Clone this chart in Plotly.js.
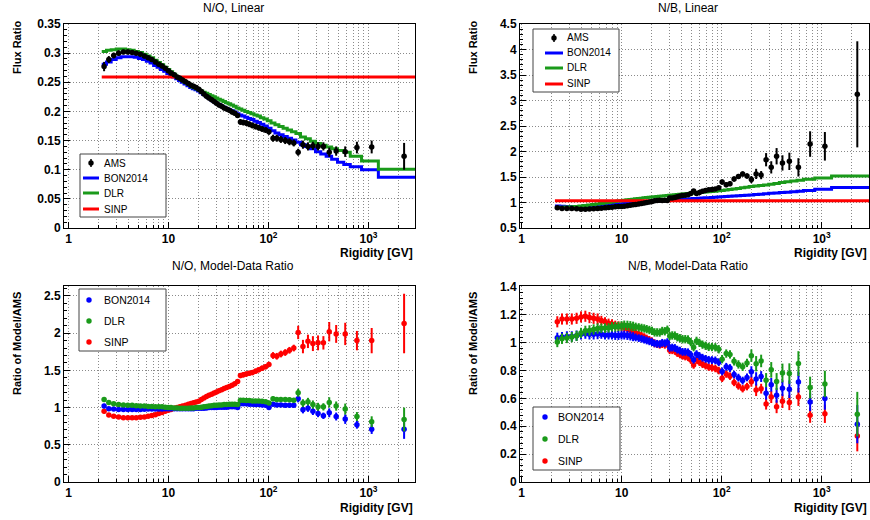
<!DOCTYPE html>
<html><head><meta charset="utf-8">
<script src="https://cdn.plot.ly/plotly-3.0.1.min.js"></script>
<style>html,body{margin:0;padding:0;background:#fff}#chart{width:870px;height:520px}</style>
</head><body><div id="chart"></div>
<script>
// ---------- data ----------
const rigidity = [2.27,2.53,2.83,3.17,3.54,3.92,4.33,4.76,5.24,5.74,
 6.26,6.81,7.39,7.99,8.62,9.28,9.96,10.6,11.4,12.2,
 13.0,13.8,14.8,15.8,16.8,17.8,18.9,20.1,21.3,22.6,
 24.0,25.4,27.0,28.6,30.2,32.0,34.0,36.0,38.2,40.6,
 43.2,46.0,49.1,52.4,56.0,59.9,64.3,69.0,74.2,79.9,
 86.3,93.5,101,111,121,133,147,162,179,198,
 221,248,278,313,354,405,475,585,766,1076,2270];

const modelEdges = [2.15,2.40,2.67,3.00,3.35,3.73,4.12,4.54,5.00,5.49,
 6.00,6.54,7.10,7.69,8.30,8.95,9.62,10.3,11.0,11.8,
 12.6,13.4,14.3,15.3,16.3,17.3,18.4,19.5,20.7,22.0,
 23.3,24.7,26.2,27.8,29.4,31.1,33.0,35.0,37.1,39.4,
 41.9,44.6,47.5,50.7,54.1,57.9,62.0,66.6,71.5,77.0,
 83.0,89.8,97.3,106,116,127,140,154,170,188,
 209,234,262,295,333,377,428,490,566,657,852,1255,3200];

// N/O flux ratio (AMS)
const amsNO = [0.277,0.289,0.296,0.300,0.302,0.302,0.301,0.300,0.298,0.295,
 0.292,0.289,0.285,0.281,0.278,0.274,0.270,0.266,0.263,0.259,
 0.257,0.254,0.251,0.248,0.245,0.243,0.241,0.238,0.234,0.230,
 0.226,0.223,0.220,0.217,0.214,0.211,0.209,0.206,0.204,0.202,
 0.199,0.197,0.193,0.182,0.181,0.180,0.178,0.176,0.174,0.172,
 0.170,0.168,0.165,0.154,0.154,0.152,0.150,0.148,0.146,0.130,
 0.143,0.140,0.141,0.140,0.140,0.130,0.132,0.131,0.138,0.139,0.123];
const amsNOerr = [0.008,0.006,0.005,0.005,0.004,0.004,0.004,0.004,0.004,0.004,
 0.004,0.004,0.004,0.004,0.004,0.004,0.004,0.004,0.004,0.004,
 0.004,0.004,0.004,0.004,0.004,0.004,0.004,0.004,0.004,0.004,
 0.004,0.004,0.004,0.004,0.004,0.004,0.004,0.004,0.004,0.004,
 0.004,0.004,0.004,0.005,0.005,0.005,0.005,0.005,0.005,0.005,
 0.005,0.005,0.005,0.006,0.006,0.006,0.006,0.006,0.006,0.006,
 0.007,0.007,0.007,0.007,0.007,0.008,0.008,0.009,0.010,0.011,0.023];

// N/O model histograms (one value per model bin)
const bonNO = [0.281,0.285,0.289,0.292,0.294,0.294,0.294,0.293,0.291,0.289,
 0.286,0.283,0.279,0.276,0.272,0.269,0.265,0.262,0.259,0.256,
 0.253,0.250,0.247,0.244,0.241,0.239,0.237,0.235,0.232,0.229,
 0.226,0.223,0.220,0.217,0.214,0.212,0.209,0.207,0.205,0.203,
 0.201,0.199,0.196,0.194,0.192,0.190,0.188,0.186,0.183,0.181,
 0.178,0.175,0.171,0.167,0.163,0.160,0.157,0.154,0.151,0.147,
 0.143,0.140,0.136,0.131,0.127,0.123,0.118,0.113,0.109,0.105,0.100,0.087];
const dlrNO = [0.303,0.305,0.306,0.307,0.307,0.306,0.305,0.303,0.301,0.298,
 0.295,0.292,0.288,0.284,0.280,0.276,0.272,0.268,0.264,0.260,
 0.257,0.254,0.250,0.247,0.244,0.241,0.239,0.237,0.235,0.233,
 0.231,0.229,0.227,0.225,0.223,0.221,0.219,0.217,0.215,0.213,
 0.211,0.209,0.206,0.204,0.202,0.200,0.198,0.196,0.194,0.192,
 0.189,0.187,0.184,0.180,0.177,0.174,0.171,0.168,0.165,0.162,
 0.156,0.153,0.149,0.145,0.142,0.139,0.136,0.133,0.130,0.123,0.115,0.101];
const sinpNO = 0.259;

// N/O model / AMS
const ratioBonNO = [1.02,0.985,0.98,0.975,0.975,0.975,0.975,0.975,0.975,0.978,
 0.98,0.98,0.98,0.98,0.982,0.984,0.985,0.985,0.985,0.985,
 0.985,0.985,0.985,0.985,0.985,0.985,0.99,0.99,0.99,0.99,
 0.995,1.0,1.0,1.0,1.0,1.005,1.005,1.005,1.005,1.01,
 1.01,1.01,1.0,1.05,1.05,1.05,1.045,1.045,1.04,1.04,
 1.035,1.03,1.0,1.045,1.035,1.035,1.03,1.03,1.03,1.12,
 0.97,0.99,0.95,0.92,0.89,0.93,0.88,0.845,0.77,0.71,0.71];
const ratioDlrNO = [1.11,1.07,1.05,1.04,1.035,1.03,1.03,1.025,1.02,1.02,
 1.015,1.015,1.01,1.01,1.01,1.005,1.0,1.0,0.995,0.995,
 0.99,0.99,0.99,0.99,0.995,0.995,1.0,1.0,1.005,1.01,
 1.015,1.02,1.025,1.03,1.03,1.035,1.035,1.04,1.04,1.045,
 1.045,1.045,1.04,1.10,1.10,1.095,1.095,1.09,1.09,1.09,
 1.085,1.08,1.06,1.12,1.11,1.11,1.11,1.105,1.10,1.20,
 1.06,1.08,1.04,1.01,1.01,1.07,1.02,0.98,0.88,0.81,0.84];
const ratioSinpNO = [0.95,0.90,0.885,0.875,0.865,0.862,0.862,0.865,0.87,0.875,
 0.885,0.895,0.905,0.92,0.935,0.95,0.965,0.975,0.99,1.0,
 1.01,1.02,1.03,1.045,1.055,1.065,1.075,1.085,1.11,1.13,
 1.15,1.165,1.18,1.195,1.21,1.225,1.24,1.255,1.27,1.285,
 1.30,1.32,1.35,1.43,1.44,1.45,1.46,1.47,1.49,1.51,
 1.53,1.55,1.58,1.70,1.69,1.72,1.74,1.77,1.80,2.01,
 1.82,1.89,1.86,1.87,1.87,2.02,1.99,1.99,1.90,1.90,2.13];
const ratioBonNOerr = [0.03,0.02,0.015,0.015,0.015,0.015,0.015,0.015,0.015,0.015,
 0.015,0.015,0.015,0.015,0.015,0.015,0.015,0.015,0.015,0.015,
 0.015,0.015,0.015,0.015,0.015,0.015,0.015,0.015,0.017,0.017,
 0.017,0.017,0.017,0.017,0.017,0.017,0.017,0.017,0.017,0.017,
 0.017,0.017,0.017,0.024,0.024,0.024,0.024,0.024,0.024,0.024,
 0.024,0.024,0.024,0.027,0.027,0.027,0.027,0.027,0.027,0.05,
 0.048,0.047,0.05,0.049,0.043,0.06,0.053,0.064,0.053,0.064,0.13];
const ratioDlrNOerr = [0.03,0.02,0.015,0.015,0.015,0.015,0.015,0.015,0.015,0.015,
 0.015,0.015,0.015,0.015,0.015,0.015,0.015,0.015,0.015,0.015,
 0.015,0.015,0.015,0.015,0.015,0.015,0.015,0.015,0.018,0.018,
 0.018,0.018,0.018,0.018,0.018,0.018,0.018,0.018,0.018,0.018,
 0.018,0.018,0.018,0.025,0.025,0.025,0.025,0.025,0.025,0.025,
 0.025,0.025,0.025,0.03,0.03,0.03,0.03,0.03,0.03,0.054,
 0.052,0.051,0.056,0.054,0.049,0.069,0.062,0.074,0.06,0.073,0.16];
const ratioSinpNOerr = [0.03,0.02,0.015,0.015,0.015,0.015,0.015,0.015,0.015,0.015,
 0.015,0.015,0.015,0.015,0.015,0.015,0.015,0.015,0.017,0.017,
 0.017,0.017,0.017,0.017,0.017,0.017,0.017,0.017,0.022,0.022,
 0.022,0.022,0.022,0.022,0.022,0.022,0.022,0.022,0.022,0.022,
 0.022,0.022,0.022,0.035,0.035,0.035,0.035,0.035,0.035,0.035,
 0.035,0.035,0.035,0.045,0.045,0.045,0.045,0.045,0.045,0.09,
 0.09,0.09,0.10,0.10,0.09,0.13,0.12,0.15,0.13,0.17,0.40];

// N/B flux ratio (AMS)
const amsNB = [0.896,0.880,0.880,0.880,0.877,0.869,0.866,0.873,0.877,0.880,
 0.888,0.896,0.904,0.907,0.916,0.920,0.924,0.928,0.936,0.945,
 0.954,0.963,0.972,0.981,0.990,1.000,1.010,1.020,1.035,1.040,
 1.046,1.040,1.046,1.040,1.090,1.090,1.096,1.114,1.126,1.138,
 1.144,1.151,1.177,1.226,1.177,1.198,1.219,1.234,1.249,1.256,
 1.264,1.288,1.40,1.35,1.37,1.46,1.51,1.56,1.52,1.45,
 1.561,1.537,1.839,1.689,1.907,1.776,1.807,1.689,2.146,2.102,3.121];
const amsNBerr = [0.03,0.03,0.03,0.03,0.03,0.03,0.03,0.03,0.03,0.03,
 0.028,0.028,0.028,0.028,0.028,0.028,0.028,0.028,0.028,0.028,
 0.028,0.029,0.029,0.029,0.029,0.029,0.029,0.029,0.029,0.029,
 0.029,0.029,0.029,0.029,0.033,0.033,0.033,0.033,0.033,0.033,
 0.033,0.033,0.033,0.037,0.037,0.037,0.037,0.037,0.037,0.037,
 0.037,0.037,0.05,0.05,0.05,0.05,0.05,0.05,0.05,0.07,
 0.10,0.08,0.13,0.12,0.16,0.15,0.17,0.18,0.25,0.28,1.04];

// N/B model histograms
const bonNB = [0.93,0.925,0.922,0.92,0.92,0.921,0.923,0.926,0.93,0.935,
 0.94,0.945,0.951,0.957,0.963,0.969,0.975,0.98,0.985,0.99,
 0.995,1.0,1.004,1.008,1.012,1.016,1.02,1.024,1.028,1.032,
 1.036,1.04,1.044,1.047,1.05,1.053,1.056,1.059,1.062,1.065,
 1.068,1.071,1.074,1.077,1.08,1.083,1.087,1.091,1.095,1.099,
 1.103,1.107,1.111,1.116,1.121,1.126,1.131,1.136,1.141,1.147,
 1.155,1.163,1.171,1.179,1.187,1.195,1.203,1.211,1.219,1.235,1.26,1.295];
const dlrNB = [0.90,0.905,0.91,0.915,0.92,0.93,0.94,0.95,0.96,0.97,
 0.98,0.99,1.0,1.01,1.02,1.028,1.036,1.044,1.052,1.059,
 1.066,1.073,1.079,1.085,1.091,1.097,1.102,1.107,1.112,1.117,
 1.122,1.127,1.132,1.137,1.142,1.147,1.152,1.157,1.162,1.167,
 1.172,1.177,1.182,1.187,1.192,1.197,1.202,1.207,1.212,1.217,
 1.222,1.228,1.235,1.245,1.255,1.265,1.275,1.29,1.30,1.315,
 1.325,1.335,1.345,1.36,1.375,1.39,1.405,1.42,1.435,1.455,1.48,1.52];
const sinpNB = 1.035;

// N/B model / AMS
const ratioBonNB = [1.035,1.04,1.045,1.045,1.05,1.06,1.065,1.06,1.06,1.062,
 1.06,1.055,1.055,1.055,1.052,1.052,1.055,1.055,1.052,1.048,
 1.043,1.038,1.033,1.028,1.022,1.016,1.01,1.004,0.995,0.992,
 0.99,0.999,0.996,1.004,0.963,0.965,0.962,0.95,0.943,0.934,
 0.934,0.931,0.913,0.878,0.918,0.904,0.892,0.884,0.877,0.875,
 0.873,0.86,0.794,0.827,0.818,0.771,0.749,0.728,0.751,0.791,
 0.74,0.757,0.637,0.698,0.622,0.673,0.666,0.717,0.575,0.60,0.415];
const ratioDlrNB = [1.005,1.028,1.034,1.04,1.049,1.07,1.085,1.088,1.095,1.102,
 1.104,1.105,1.106,1.114,1.114,1.117,1.121,1.125,1.124,1.121,
 1.117,1.114,1.11,1.106,1.102,1.097,1.091,1.085,1.074,1.074,
 1.073,1.084,1.082,1.093,1.048,1.052,1.051,1.039,1.032,1.025,
 1.025,1.023,1.004,0.968,1.013,0.999,0.986,0.978,0.97,0.969,
 0.967,0.953,0.882,0.922,0.916,0.866,0.844,0.827,0.855,0.907,
 0.849,0.869,0.731,0.805,0.721,0.783,0.778,0.85,0.678,0.704,0.487];
const ratioSinpNB = [1.15,1.17,1.17,1.17,1.175,1.185,1.19,1.18,1.175,1.17,
 1.16,1.15,1.14,1.135,1.125,1.12,1.115,1.11,1.10,1.09,
 1.08,1.07,1.06,1.05,1.04,1.03,1.02,1.01,0.995,0.99,
 0.985,0.99,0.985,0.99,0.945,0.945,0.94,0.925,0.915,0.905,
 0.90,0.895,0.875,0.84,0.875,0.86,0.845,0.835,0.825,0.82,
 0.815,0.80,0.745,0.775,0.76,0.715,0.69,0.67,0.685,0.72,
 0.66,0.67,0.56,0.61,0.54,0.58,0.57,0.61,0.48,0.49,0.33];
const ratioBonNBerr = [0.037,0.037,0.037,0.037,0.037,0.037,0.037,0.037,0.037,0.037,
 0.032,0.032,0.032,0.032,0.032,0.032,0.032,0.032,0.032,0.032,
 0.032,0.028,0.028,0.028,0.028,0.028,0.028,0.028,0.028,0.028,
 0.028,0.028,0.028,0.028,0.028,0.028,0.028,0.028,0.028,0.028,
 0.028,0.028,0.028,0.028,0.028,0.028,0.028,0.028,0.028,0.028,
 0.028,0.028,0.028,0.028,0.028,0.028,0.028,0.028,0.028,0.04,
 0.048,0.039,0.045,0.049,0.053,0.057,0.063,0.075,0.066,0.081,0.137];
const ratioDlrNBerr = [0.037,0.037,0.037,0.037,0.037,0.037,0.037,0.037,0.037,0.037,
 0.034,0.034,0.034,0.034,0.034,0.034,0.034,0.034,0.034,0.034,
 0.034,0.03,0.03,0.03,0.03,0.03,0.03,0.03,0.03,0.03,
 0.03,0.03,0.03,0.03,0.03,0.03,0.03,0.03,0.03,0.03,
 0.03,0.03,0.03,0.03,0.03,0.03,0.03,0.03,0.03,0.03,
 0.03,0.03,0.03,0.03,0.03,0.03,0.03,0.03,0.03,0.045,
 0.055,0.045,0.051,0.056,0.061,0.067,0.074,0.089,0.078,0.095,0.16];
const ratioSinpNBerr = [0.04,0.04,0.04,0.04,0.04,0.04,0.04,0.04,0.04,0.04,
 0.033,0.033,0.033,0.033,0.033,0.033,0.033,0.033,0.033,0.033,
 0.033,0.028,0.028,0.028,0.028,0.028,0.028,0.028,0.028,0.028,
 0.028,0.028,0.028,0.028,0.027,0.027,0.027,0.027,0.027,0.027,
 0.027,0.027,0.027,0.027,0.027,0.027,0.027,0.027,0.027,0.027,
 0.027,0.027,0.027,0.027,0.027,0.027,0.027,0.027,0.027,0.036,
 0.043,0.035,0.04,0.043,0.046,0.049,0.054,0.064,0.055,0.066,0.11];

// tick labels
const xMajorVals = [1,10,100,1000];
const xMajorText = ['1','10','10<sup>2</sup>','10<sup>3</sup>'];
const xMinorVals = [2,3,4,5,6,7,8,9,20,30,40,50,60,70,80,90,200,300,400,500,600,700,800,900,2000,3000];

// legend labels
const legendTopNames = ['AMS','BON2014','DLR','SINP'];
const legendRatioNames = ['BON2014','DLR','SINP'];

// ---------- styling ----------
const FONT = 'Liberation Sans, Arial, Helvetica, sans-serif';
const BLUE = '#0000ff', GREEN = '#1a9a1a', RED = '#ff0000', BLACK = '#000000';
const GRID = '#8a8a8a', DASH = '1px,2px';

function stepTrace(vals, color, xa, ya){
  return {type:'scatter', mode:'lines', x:modelEdges, y:vals.concat([vals[vals.length-1]]),
    line:{shape:'hv', color:color, width:3}, xaxis:xa, yaxis:ya, hoverinfo:'skip'};
}
function flatTrace(val, color, xa, ya){
  return {type:'scatter', mode:'lines', x:modelEdges, y:modelEdges.map(()=>val),
    line:{color:color, width:3}, xaxis:xa, yaxis:ya, hoverinfo:'skip'};
}
function pointTrace(y, err, color, xa, ya){
  return {type:'scatter', mode:'markers', x:rigidity, y:y,
    error_y:{type:'data', array:err, visible:true, color:color, thickness:2, width:0},
    marker:{color:color, size:5.5, symbol:'circle'}, xaxis:xa, yaxis:ya, hoverinfo:'skip'};
}

const traces = [
  stepTrace(bonNO, BLUE, 'x', 'y'),
  stepTrace(dlrNO, GREEN, 'x', 'y'),
  flatTrace(sinpNO, RED, 'x', 'y'),
  pointTrace(amsNO, amsNOerr, BLACK, 'x', 'y'),

  stepTrace(bonNB, BLUE, 'x2', 'y2'),
  stepTrace(dlrNB, GREEN, 'x2', 'y2'),
  flatTrace(sinpNB, RED, 'x2', 'y2'),
  pointTrace(amsNB, amsNBerr, BLACK, 'x2', 'y2'),

  pointTrace(ratioSinpNO, ratioSinpNOerr, RED, 'x3', 'y3'),
  pointTrace(ratioBonNO, ratioBonNOerr, BLUE, 'x3', 'y3'),
  pointTrace(ratioDlrNO, ratioDlrNOerr, GREEN, 'x3', 'y3'),

  pointTrace(ratioSinpNB, ratioSinpNBerr, RED, 'x4', 'y4'),
  pointTrace(ratioBonNB, ratioBonNBerr, BLUE, 'x4', 'y4'),
  pointTrace(ratioDlrNB, ratioDlrNBerr, GREEN, 'x4', 'y4')
];

const W = 870, H = 520;
const leftDom = [64/W, 415/W], rightDom = [520/W, 869/W];
const topDom = [(H-228)/H, (H-24)/H], botDom = [(H-482)/H, (H-286)/H];

function xAxis(domain, range, anchor){
  return {type:'log', domain:domain, range:range, anchor:anchor, tickmode:'array',
    tickvals:xMajorVals, ticktext:xMajorText, ticks:'inside', ticklen:6, tickcolor:'#000',
    minor:{tickmode:'array', tickvals:xMinorVals, ticks:'inside', ticklen:3, tickcolor:'#000',
      showgrid:true, gridcolor:GRID, griddash:DASH, gridwidth:1},
    showgrid:true, gridcolor:GRID, griddash:DASH, gridwidth:1,
    showline:true, linecolor:'#000', linewidth:1, mirror:true, zeroline:false,
    tickfont:{family:FONT, size:12, weight:700, color:'#000'}};
}
function yAxis(domain, range, dtick, minor, anchor){
  return {domain:domain, range:range, anchor:anchor, dtick:dtick, tick0:0,
    ticks:'inside', ticklen:6, tickcolor:'#000',
    minor:{dtick:minor, tick0:0, ticks:'inside', ticklen:3, tickcolor:'#000', showgrid:false},
    showgrid:true, gridcolor:GRID, griddash:DASH, gridwidth:1,
    showline:true, linecolor:'#000', linewidth:1, mirror:true, zeroline:false,
    tickfont:{family:FONT, size:12, weight:700, color:'#000'}};
}

// ---------- text and legend boxes ----------
const ann = [], shapes = [];
const px = x => x/W, py = y => (H-y)/H;
function txt(text, x, y, opts){
  ann.push(Object.assign({text:text, x:px(x), y:py(y), xref:'paper', yref:'paper', showarrow:false,
    xanchor:'center', yanchor:'middle', font:{family:FONT, size:12, color:'#000'}}, opts||{}));
}
function box(x0, y0, x1, y1){
  shapes.push({type:'rect', xref:'paper', yref:'paper', x0:px(x0), x1:px(x1), y0:py(y1), y1:py(y0),
    line:{color:'#444', width:1}, fillcolor:'#ffffff', layer:'above'});
}
function sampleLine(x0, x1, y, color){
  shapes.push({type:'line', xref:'paper', yref:'paper', x0:px(x0), x1:px(x1), y0:py(y), y1:py(y),
    line:{color:color, width:3}, layer:'above'});
}
function sampleDot(x, y, color, bar){
  const r = 2.7;
  if (bar) shapes.push({type:'line', xref:'paper', yref:'paper', x0:px(x), x1:px(x), y0:py(y-4), y1:py(y+4),
    line:{color:color, width:1.5}, layer:'above'});
  shapes.push({type:'circle', xref:'paper', yref:'paper', x0:px(x-r), x1:px(x+r), y0:py(y+r), y1:py(y-r),
    fillcolor:color, line:{color:color, width:0}, layer:'above'});
}
const legText = {xanchor:'left', yanchor:'middle', font:{family:FONT, size:10, color:'#000'}};
const legTextB = {xanchor:'left', yanchor:'middle', font:{family:FONT, size:10.5, color:'#000'}};

// top-left legend
box(80, 154, 166, 217);
sampleDot(91, 163, BLACK, true); txt(legendTopNames[0], 102, 163, legText);
sampleLine(83, 99, 178, BLUE);  txt(legendTopNames[1], 102, 178, legText);
sampleLine(83, 99, 193, GREEN); txt(legendTopNames[2], 102, 193, legText);
sampleLine(83, 99, 209, RED);   txt(legendTopNames[3], 102, 209, legText);
// top-right legend
box(533, 29, 619, 92);
sampleDot(554, 38, BLACK, true); txt(legendTopNames[0], 565, 38, legText);
sampleLine(545, 563, 53, BLUE);  txt(legendTopNames[1], 565, 53, legText);
sampleLine(545, 563, 68, GREEN); txt(legendTopNames[2], 565, 68, legText);
sampleLine(545, 563, 84, RED);   txt(legendTopNames[3], 565, 84, legText);
// bottom-left legend
box(79, 289, 166, 351);
sampleDot(89, 300, BLUE, false);  txt(legendRatioNames[0], 102, 300, legTextB);
sampleDot(89, 321, GREEN, false); txt(legendRatioNames[1], 102, 321, legTextB);
sampleDot(89, 342, RED, false);   txt(legendRatioNames[2], 102, 342, legTextB);
// bottom-right legend
box(533, 407, 620, 470);
sampleDot(545, 417, BLUE, false);  txt(legendRatioNames[0], 556, 417, legTextB);
sampleDot(545, 439, GREEN, false); txt(legendRatioNames[1], 556, 439, legTextB);
sampleDot(545, 461, RED, false);   txt(legendRatioNames[2], 556, 461, legTextB);

// titles and axis titles
txt('N/O, Linear', 233, 8);
txt('N/B, Linear', 688, 8);
txt('N/O, Model-Data Ratio', 233, 266);
txt('N/B, Model-Data Ratio', 688, 266);
const bold11 = {font:{family:FONT, size:11, weight:700, color:'#000'}, textangle:-90};
txt('Flux Ratio', 17, 48, bold11);
txt('Flux Ratio', 473, 48, bold11);
txt('Ratio of Model/AMS', 17, 344, bold11);
txt('Ratio of Model/AMS', 473, 344, bold11);
const boldX = {font:{family:FONT, size:12, weight:700, color:'#000'}, xanchor:'right'};
txt('Rigidity [GV]', 415, 253, boldX);
txt('Rigidity [GV]', 869, 253, boldX);
txt('Rigidity [GV]', 415, 508, boldX);
txt('Rigidity [GV]', 869, 508, boldX);

const layout = {
  width:W, height:H, margin:{l:0, r:0, t:0, b:0},
  paper_bgcolor:'#ffffff', plot_bgcolor:'#ffffff', showlegend:false,
  font:{family:FONT, color:'#000'},
  xaxis: xAxis(leftDom, [-0.045, 3.465], 'y'),
  yaxis: yAxis(topDom, [0, 0.35], 0.05, 0.01, 'x'),
  xaxis2: xAxis(rightDom, [-0.017, 3.473], 'y2'),
  yaxis2: yAxis(topDom, [0.5, 4.5], 0.5, 0.1, 'x2'),
  xaxis3: xAxis(leftDom, [-0.045, 3.465], 'y3'),
  yaxis3: yAxis(botDom, [0, 2.634], 0.5, 0.1, 'x3'),
  xaxis4: xAxis(rightDom, [-0.017, 3.473], 'y4'),
  yaxis4: yAxis(botDom, [0, 1.407], 0.2, 0.04, 'x4'),
  shapes: shapes,
  annotations: ann
};

Plotly.newPlot('chart', traces, layout, {displayModeBar:false, staticPlot:true});
</script></body></html>
